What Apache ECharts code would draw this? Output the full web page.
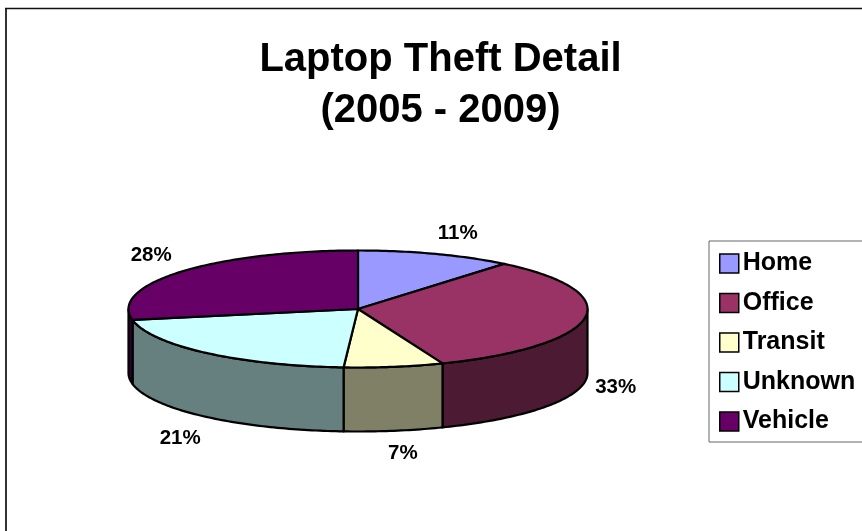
<!DOCTYPE html>
<html>
<head>
<meta charset="utf-8">
<style>html,body{margin:0;padding:0;background:#fff}#chart{width:862px;height:531px}</style>
<script src="https://cdn.jsdelivr.net/npm/echarts@6/dist/echarts.min.js"></script>
</head>
<body>
<div id="chart"></div>
<script>
// Share of laptop thefts by location, in percent
const categories = ['Home', 'Office', 'Transit', 'Unknown', 'Vehicle'];
const shares = [11, 33, 7, 21, 28];
const topColors = ['#9999FF', '#993366', '#FFFFCC', '#CCFFFF', '#660066'];
const sideColors = ['#4D4D80', '#4D1A33', '#808066', '#668080', '#330033'];

// Tilted disc geometry
const disc = { cx: 358, cy: 309, rx: 229.5, ry: 58.5, depth: 64 };
// Where each percentage label sits, relative to the rim at the slice's mid-angle
const labelOffsets = [[22, -21], [31, 5], [9, 23], [-26, 21], [-30, -16]];
const FONT = '"Liberation Sans", Arial, sans-serif';

const total = shares.reduce((a, b) => a + b, 0);
const rim = (deg) => {
  const r = deg * Math.PI / 180;
  return [disc.cx + disc.rx * Math.sin(r), disc.cy - disc.ry * Math.cos(r)];
};
const arc = (from, to) => {
  const pts = [];
  const n = Math.max(2, Math.ceil(Math.abs(to - from)));
  for (let i = 0; i <= n; i++) pts.push(rim(from + (to - from) * i / n));
  return pts;
};

function renderSlice(index) {
  return function (params, api) {
    const value = api.value(0);
    const before = shares.slice(0, index).reduce((a, b) => a + b, 0);
    const start = before / total * 360;
    const end = start + value / total * 360;
    const mid = (start + end) / 2;
    const outline = { stroke: '#000', lineWidth: 2.2, lineJoin: 'round' };
    const children = [];

    // Wall: only the part of the rim facing the viewer (90 to 270 degrees)
    const wallFrom = Math.max(start, 90);
    const wallTo = Math.min(end, 270);
    if (wallTo > wallFrom) {
      const upper = arc(wallFrom, wallTo);
      const lower = upper.slice().reverse().map(p => [p[0], p[1] + disc.depth]);
      children.push({
        type: 'polygon', z2: 1,
        shape: { points: upper.concat(lower) },
        style: Object.assign({ fill: sideColors[index] }, outline)
      });
    }

    // Top face
    children.push({
      type: 'polygon', z2: 2,
      shape: { points: [[disc.cx, disc.cy]].concat(arc(start, end)) },
      style: Object.assign({ fill: topColors[index] }, outline)
    });

    // Percentage label
    const anchor = rim(mid);
    const drop = (mid > 90 && mid < 270) ? disc.depth : 0;
    children.push({
      type: 'text', z2: 3,
      style: {
        x: anchor[0] + labelOffsets[index][0],
        y: anchor[1] + drop + labelOffsets[index][1],
        text: Math.round(value / total * 100) + '%',
        font: 'bold 20.5px ' + FONT,
        fill: '#000', align: 'center', verticalAlign: 'middle'
      }
    });
    return { type: 'group', children };
  };
}

const chart = echarts.init(document.getElementById('chart'), null, { renderer: 'canvas' });
chart.setOption({
  animation: false,
  backgroundColor: '#fff',
  title: {
    text: 'Laptop Theft Detail\n(2005 - 2009)',
    left: 435.5, top: 29, textAlign: 'center',
    textStyle: { fontFamily: FONT, fontWeight: 'bold', fontSize: 40, lineHeight: 51, color: '#000' }
  },
  legend: {
    data: categories.map((name, i) => ({
      name, icon: 'rect',
      itemStyle: { color: topColors[i], borderColor: '#000', borderWidth: 1.5 }
    })),
    orient: 'vertical',
    left: 709, top: 241,
    padding: [10, 14, 8, 10],
    itemWidth: 19, itemHeight: 19, itemGap: 14.5,
    selectedMode: false,
    backgroundColor: '#fff',
    borderColor: '#666', borderWidth: 1,
    textStyle: { fontFamily: FONT, fontWeight: 'bold', fontSize: 25, color: '#000', padding: [0, 0, 0, -1] }
  },
  graphic: [
    { type: 'line', shape: { x1: 6, y1: 8, x2: 6, y2: 531 }, style: { stroke: '#333', lineWidth: 2 } },
    { type: 'line', shape: { x1: 5, y1: 8.5, x2: 862, y2: 8.5 }, style: { stroke: '#111', lineWidth: 1.5 } }
  ],
  series: categories.map((name, i) => ({
    type: 'custom',
    name,
    coordinateSystem: 'none',
    itemStyle: { color: topColors[i] },
    data: [[shares[i]]],
    renderItem: renderSlice(i)
  }))
});
</script>
</body>
</html>
